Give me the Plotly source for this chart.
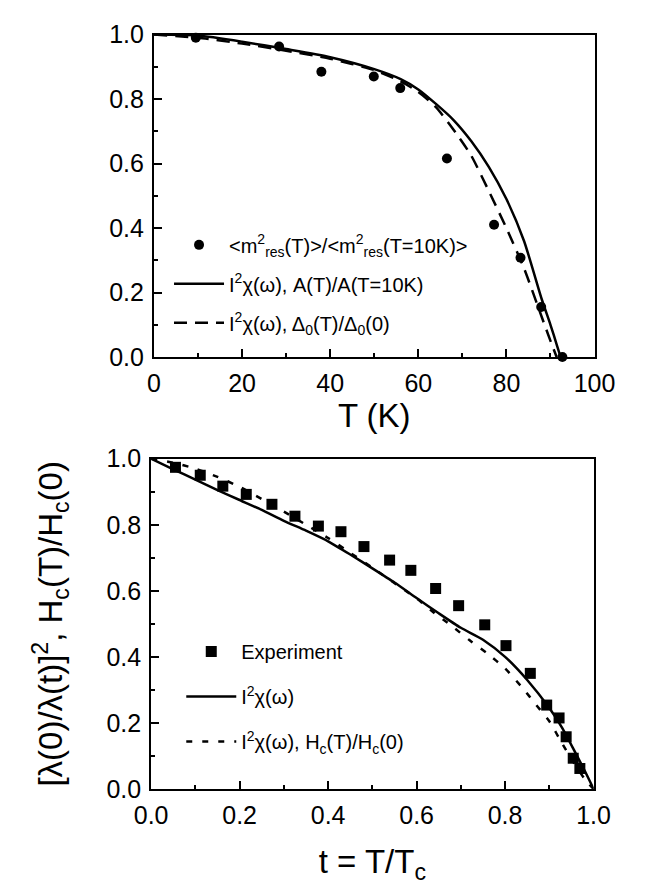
"""Two-panel figure: normalised resonance / gap vs T, and superfluid density vs t."""

import plotly.graph_objects as go

FONT = "Liberation Sans, Arial, sans-serif"

# ---- top panel: T (K) ----
T_dots = [9.5, 28.4, 38.0, 49.9, 55.9, 66.5, 77.2, 83.2, 87.9, 92.7]
m2_dots = [0.99, 0.963, 0.885, 0.87, 0.834, 0.616, 0.41, 0.308, 0.155, 0.0]

T_solid = [0, 10, 20, 30, 40, 50, 56, 60, 64, 68, 72, 76, 80, 84, 88, 90, 91.5, 92.3]
A_solid = [1.0, 0.997, 0.978, 0.955, 0.93, 0.893, 0.862, 0.83, 0.785, 0.735,
           0.67, 0.59, 0.49, 0.36, 0.18, 0.10, 0.035, 0.0]

T_dash = [0, 10, 20, 30, 40, 50, 56, 60, 64, 68, 72, 76, 80, 84, 88, 90, 91.4]
gap_dash = [1.0, 0.99, 0.972, 0.95, 0.925, 0.89, 0.855, 0.822, 0.775, 0.705,
            0.625, 0.515, 0.40, 0.275, 0.125, 0.05, 0.0]

# ---- bottom panel: t = T/Tc ----
t_exp = [0.055, 0.111, 0.162, 0.215, 0.273, 0.325, 0.378, 0.429, 0.481, 0.539,
         0.587, 0.643, 0.695, 0.754, 0.802, 0.857, 0.894, 0.922, 0.938, 0.954, 0.969]
rho_exp = [0.974, 0.95, 0.917, 0.892, 0.862, 0.826, 0.796, 0.779, 0.734, 0.693,
           0.662, 0.607, 0.555, 0.497, 0.434, 0.35, 0.254, 0.215, 0.158, 0.093, 0.062]

t_solid = [0, 0.05, 0.1, 0.15, 0.2, 0.25, 0.3, 0.35, 0.4, 0.45, 0.5, 0.55, 0.6,
           0.65, 0.7, 0.75, 0.8, 0.85, 0.9, 0.93, 0.96, 0.98, 1.0]
rho_solid = [1.0, 0.968, 0.937, 0.905, 0.875, 0.845, 0.812, 0.782, 0.75, 0.71,
             0.668, 0.625, 0.578, 0.532, 0.488, 0.452, 0.40, 0.33, 0.245, 0.183,
             0.107, 0.055, 0.0]

t_dot = [0, 0.05, 0.1, 0.15, 0.2, 0.25, 0.3, 0.35, 0.4, 0.45, 0.5, 0.56, 0.6,
         0.64, 0.68, 0.72, 0.76, 0.8, 0.84, 0.87, 0.9, 0.93, 0.955, 0.98, 1.0]
hc_dot = [1.0, 0.988, 0.97, 0.945, 0.915, 0.878, 0.84, 0.80, 0.76, 0.715, 0.67,
          0.614, 0.577, 0.533, 0.493, 0.45, 0.41, 0.365, 0.305, 0.255, 0.205,
          0.135, 0.08, 0.03, 0.0]

W, H = 648, 885


def px_x(p):
    return p / W


def px_y(p):
    return 1 - p / H


fig = go.Figure()

fig.add_scatter(x=T_dots, y=m2_dots, mode="markers", xaxis="x", yaxis="y",
                marker=dict(symbol="circle", size=10, color="black"),
                cliponaxis=False, legend="legend", legendgroup="a",
                name="&lt;m<sup>2</sup><sub>res</sub>(T)&gt;/&lt;m<sup>2</sup><sub>res</sub>(T=10K)&gt;")
fig.add_scatter(x=T_solid, y=A_solid, mode="lines", xaxis="x", yaxis="y",
                line=dict(color="black", width=2.5, shape="spline", smoothing=0.6),
                legend="legend", legendgroup="b",
                name="I<sup>2</sup>χ(ω), A(T)/A(T=10K)")
fig.add_scatter(x=T_dash, y=gap_dash, mode="lines", xaxis="x", yaxis="y",
                line=dict(color="black", width=2.5, dash="13px,8px",
                          shape="spline", smoothing=0.6),
                legend="legend", legendgroup="c",
                name="I<sup>2</sup>χ(ω), Δ<sub>0</sub>(T)/Δ<sub>0</sub>(0)")

fig.add_scatter(x=t_exp, y=rho_exp, mode="markers", xaxis="x2", yaxis="y2",
                marker=dict(symbol="square", size=11, color="black"),
                cliponaxis=False, legend="legend2", legendgroup="d",
                name="Experiment")
fig.add_scatter(x=t_solid, y=rho_solid, mode="lines", xaxis="x2", yaxis="y2",
                line=dict(color="black", width=2.5, shape="spline", smoothing=0.6),
                legend="legend2", legendgroup="e",
                name="I<sup>2</sup>χ(ω)")
fig.add_scatter(x=t_dot, y=hc_dot, mode="lines", xaxis="x2", yaxis="y2",
                line=dict(color="black", width=2.5, dash="6px,10px",
                          shape="spline", smoothing=0.6),
                legend="legend2", legendgroup="f",
                name="I<sup>2</sup>χ(ω), H<sub>c</sub>(T)/H<sub>c</sub>(0)")

axis_common = dict(showline=True, linewidth=2, linecolor="black", mirror=True,
                   ticks="inside", ticklen=8, tickwidth=1.5, tickcolor="black",
                   showgrid=False, zeroline=False,
                   tickfont=dict(family=FONT, size=25, color="black"))
minor_common = dict(ticks="inside", ticklen=4, tickwidth=1.5, tickcolor="black")

fig.update_layout(
    width=W, height=H,
    margin=dict(l=0, r=0, t=0, b=0),
    paper_bgcolor="white", plot_bgcolor="white",
    font=dict(family=FONT, color="black"),
    xaxis=dict(domain=[px_x(137), px_x(605)], anchor="y", range=[0, 100],
               dtick=20, tick0=0, ticklabelstandoff=3,
               minor=dict(dtick=10, **minor_common),
               title=dict(text="T (K)", font=dict(size=33), standoff=4),
               **axis_common),
    yaxis=dict(domain=[px_y(346), px_y(13)], anchor="x", range=[0, 1],
               dtick=0.2, tick0=0, tickformat=".1f", ticklabelstandoff=3,
               minor=dict(dtick=0.1, **minor_common),
               **axis_common),
    xaxis2=dict(domain=[px_x(134), px_x(604)], anchor="y2", range=[0, 1],
                dtick=0.2, tick0=0, tickformat=".1f", ticklabelstandoff=3,
                minor=dict(dtick=0.1, **minor_common),
                title=dict(text="t = T/T<sub>c</sub>", font=dict(size=33), standoff=22),
                **axis_common),
    yaxis2=dict(domain=[px_y(792), px_y(451)], anchor="x2", range=[0, 1],
                dtick=0.2, tick0=0, tickformat=".1f", ticklabelstandoff=3,
                minor=dict(dtick=0.1, **minor_common),
                title=dict(text="[λ(0)/λ(t)]<sup>2</sup>, H<sub>c</sub>(T)/H<sub>c</sub>(0)",
                           font=dict(size=33), standoff=34),
                **axis_common),
    legend=dict(x=px_x(153), y=px_y(210), xanchor="left", yanchor="top",
                bgcolor="rgba(0,0,0,0)", font=dict(size=20),
                tracegroupgap=10, itemwidth=50),
    legend2=dict(x=px_x(166), y=px_y(630), xanchor="left", yanchor="top",
                 bgcolor="rgba(0,0,0,0)", font=dict(size=20),
                 tracegroupgap=16, itemwidth=50),
)

fig.write_html("out.html")
